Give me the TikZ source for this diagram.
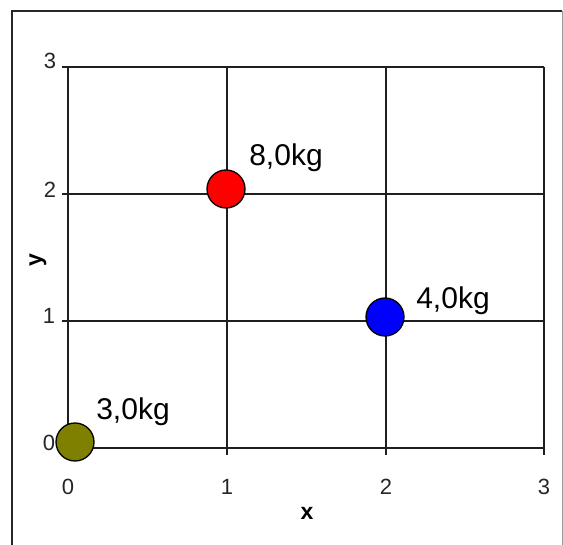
\documentclass[tikz,border=0pt]{standalone}
\usepackage{fontspec}
\setmainfont{Liberation Sans}
\begin{document}
\begin{tikzpicture}[x=1pt,y=-1pt,
  gridline/.style={line width=1.6pt,draw=black!88},
  ticklbl/.style={font=\fontsize{22}{22}\selectfont,text=black!85,inner sep=0pt},
  axlbl/.style={font=\bfseries\fontsize{23}{23}\selectfont,inner sep=0pt},
  mass/.style={circle,draw=black,line width=1.3pt,minimum size=38pt,inner sep=0pt},
  masslbl/.style={font=\fontsize{30}{30}\selectfont,inner sep=0pt}]
\useasboundingbox (0,0) rectangle (563,545);
% outer frame
\draw[line width=1.6pt,black!85] (12,545) -- (12,11) -- (562,11);
\draw[line width=0.8pt,black!40] (562,11) -- (562,545);
% grid
\foreach \gx in {68,227,386,544} {
  \draw[gridline] (\gx,67) -- (\gx,455);
}
\foreach \gy in {67,194,321,448} {
  \draw[gridline] (62,\gy) -- (544,\gy);
}
% tick labels
\node[ticklbl] (y3) at (50,61) {3};
\node[ticklbl] (y2) at (50,190) {2};
\node[ticklbl] (y1) at (49,316) {1};
\node[ticklbl] (y0) at (49,443) {0};
\node[ticklbl] (x0) at (68,487) {0};
\node[ticklbl] (x1) at (227,487) {1};
\node[ticklbl] (x2) at (386,487) {2};
\node[ticklbl] (x3) at (544,487) {3};
% axis labels
\node[axlbl] (xl) at (307,513) {x};
\node[axlbl,rotate=90] (yl) at (38,260) {y};
% masses
\node[mass,fill={rgb,255:red,128;green,128;blue,0}] (m3) at (75,442) {};
\node[mass,fill={rgb,255:red,255;green,0;blue,0}] (m8) at (226,189) {};
\node[mass,fill={rgb,255:red,0;green,0;blue,255}] (m4) at (385,317) {};
\node[masslbl] (l3) at (133,412) {3,0kg};
\node[masslbl] (l8) at (286,158) {8,0kg};
\node[masslbl] (l4) at (453,301) {4,0kg};
\end{tikzpicture}
\end{document}
